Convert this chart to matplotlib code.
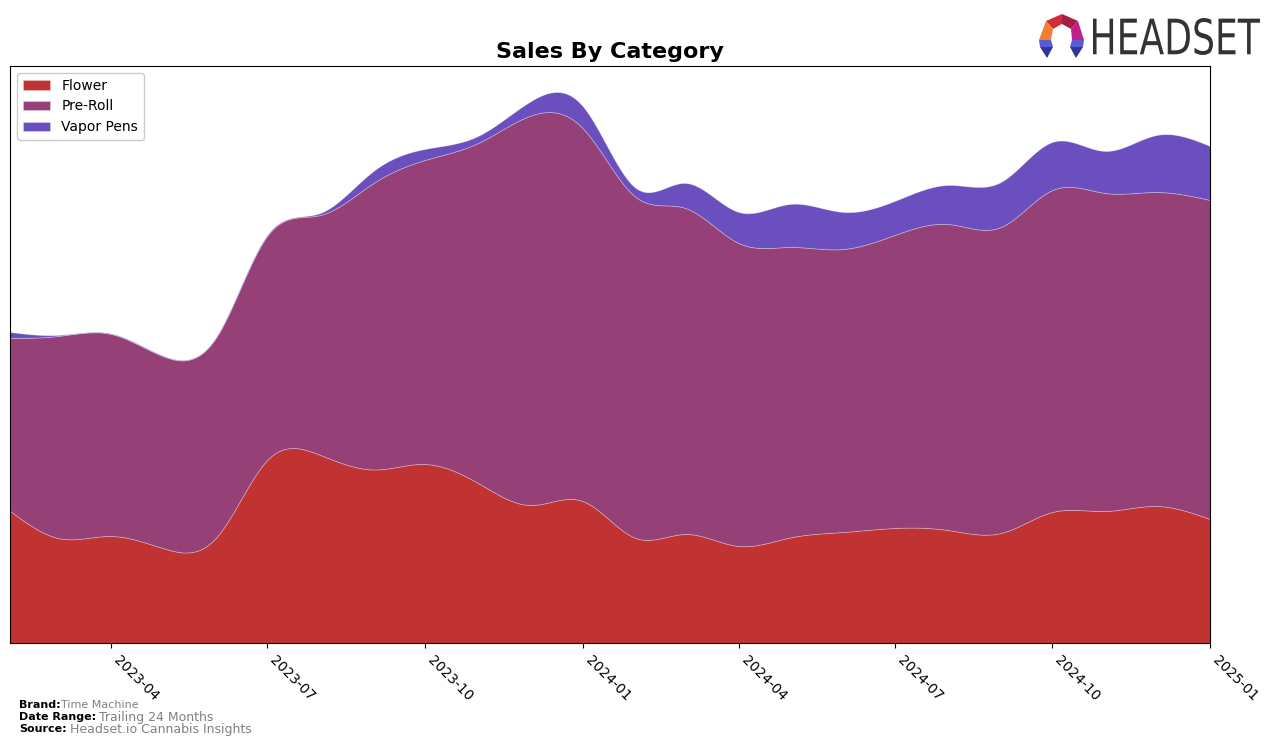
import numpy as np
import pandas as pd
import matplotlib
matplotlib.use('Agg')
import matplotlib.pyplot as plt
import matplotlib.dates as mdates
from matplotlib.patches import Polygon, PathPatch
from matplotlib.textpath import TextPath
from matplotlib.font_manager import FontProperties
from matplotlib.transforms import Affine2D

# monthly sales (arbitrary units)
months = pd.date_range('2023-02-01', periods=24, freq='MS')
flower = [132, 105, 107, 95, 105, 183, 188, 173.5, 179, 160, 138, 142,
          105, 109, 97, 105.5, 111, 115, 113, 110, 131, 132, 137, 124]
preroll = [173, 202, 202, 192, 200, 224, 240, 286.5, 304, 340, 389, 373,
           341, 326, 303, 290.5, 283, 293, 306, 306, 322, 318, 314, 319]
vapor = [6, 1, 0.5, 0.5, 0.5, 1, 2, 12, 11, 7, 14, 22,
         9, 25, 31, 43, 37, 34, 39, 45, 48, 42, 57, 54]
labels = ['Flower', 'Pre-Roll', 'Vapor Pens']
colors = ['#C13333', '#954178', '#6B4FBE']


def smooth(x, y, xs):
    # natural cubic spline, only for drawing a smooth outline
    y = np.asarray(y, float)
    n = len(x)
    h = np.diff(x)
    A = np.zeros((n, n))
    r = np.zeros(n)
    A[0, 0] = A[-1, -1] = 1
    for i in range(1, n - 1):
        A[i, i - 1] = h[i - 1]
        A[i, i] = 2 * (h[i - 1] + h[i])
        A[i, i + 1] = h[i]
        r[i] = 3 * ((y[i + 1] - y[i]) / h[i] - (y[i] - y[i - 1]) / h[i - 1])
    c = np.linalg.solve(A, r)
    b = (y[1:] - y[:-1]) / h - h * (2 * c[:-1] + c[1:]) / 3
    d = (c[1:] - c[:-1]) / (3 * h)
    idx = np.clip(np.searchsorted(x, xs) - 1, 0, n - 2)
    dx = xs - x[idx]
    return y[idx] + b[idx] * dx + c[idx] * dx ** 2 + d[idx] * dx ** 3


x = mdates.date2num(months)
xs = np.linspace(x[0], x[-1], 600)
ys = [np.clip(smooth(x, s, xs), 0, None) for s in (flower, preroll, vapor)]

fig = plt.figure(figsize=(12.76, 7.45), dpi=100)
ax = fig.add_axes([10 / 1276, 102 / 745, 1200 / 1276, 577 / 745])

ax.stackplot(xs, *ys, labels=labels, colors=colors,
             linewidth=0.6, edgecolor=(1, 1, 1, 0.3))

ax.set_xlim(x[0], x[-1])
ax.set_ylim(0, 577)
ax.set_yticks([])
ax.xaxis.set_major_locator(mdates.MonthLocator(bymonth=[1, 4, 7, 10]))
ax.xaxis.set_major_formatter(mdates.DateFormatter('%Y-%m'))
plt.setp(ax.get_xticklabels(), rotation=-45, ha='left')
ax.tick_params(axis='x', labelsize=10)

ax.set_title('Sales By Category', fontsize=16, fontweight='bold', pad=6)
ax.legend(loc='upper left', fontsize=10, framealpha=1)

# footer
fig.text(19 / 1276, 1 - 705 / 745, 'Brand:', fontsize=8, fontweight='bold', va='center')
fig.text(61 / 1276, 1 - 705 / 745, 'Time Machine', fontsize=8, color='gray', va='center')
fig.text(19 / 1276, 1 - 717 / 745, 'Date Range:', fontsize=8, fontweight='bold', va='center')
fig.text(99 / 1276, 1 - 717 / 745, 'Trailing 24 Months', fontsize=9, color='gray', va='center')
fig.text(19 / 1276, 1 - 729 / 745, 'Source:', fontsize=8, fontweight='bold', va='center')
fig.text(70 / 1276, 1 - 729 / 745, 'Headset.io Cannabis Insights', fontsize=9, color='gray', va='center')

# logo
lax = fig.add_axes([1030 / 1276, 1 - 62 / 745, 240 / 1276, 52 / 745])
lax.set_xlim(1030, 1270)
lax.set_ylim(62, 10)
lax.axis('off')
parts = [
    ([(1046, 21), (1062, 14), (1062, 24), (1053, 29)], '#D42A3A'),
    ([(1062, 14), (1078, 21), (1071, 29), (1062, 24)], '#A81C48'),
    ([(1046, 21), (1053, 29), (1051, 40), (1039, 40)], '#F08030'),
    ([(1078, 21), (1084, 40), (1072, 40), (1071, 29)], '#C0208A'),
    ([(1039, 40), (1051, 40), (1053, 47), (1040, 47)], '#5A5AD8'),
    ([(1084, 40), (1072, 40), (1070, 47), (1083, 47)], '#5A5AD8'),
    ([(1040, 47), (1053, 47), (1047, 58)], '#34349A'),
    ([(1083, 47), (1070, 47), (1076, 58)], '#34349A'),
]
for pts, c in parts:
    lax.add_patch(Polygon(pts, closed=True, facecolor=c, edgecolor='none'))

tp = TextPath((0, 0), 'HEADSET', size=1, prop=FontProperties(family='DejaVu Sans'))
ext = tp.get_extents()
tr = Affine2D().translate(-ext.x0, -ext.y0).scale(167 / ext.width, -37 / ext.height).translate(1093, 55)
lax.add_patch(PathPatch(tr.transform_path(tp), facecolor='#333333', edgecolor='none'))

fig.savefig('out.png', dpi=100)
